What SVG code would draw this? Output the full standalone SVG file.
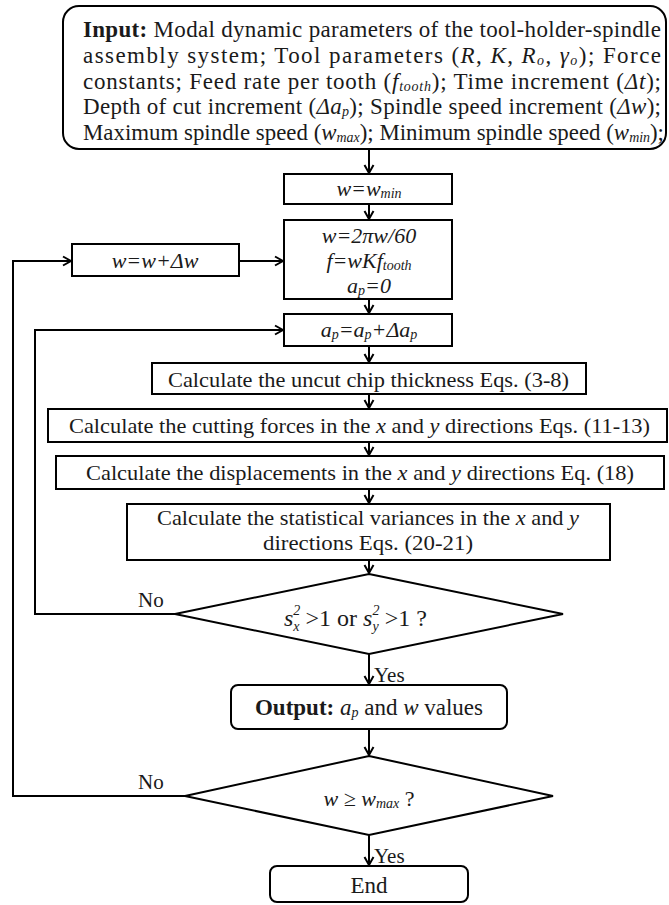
<svg xmlns="http://www.w3.org/2000/svg" width="669" height="905" viewBox="0 0 669 905">
<style>
.box{fill:#fff;stroke:#000;stroke-width:2}
.t{font-family:"Liberation Serif","Times New Roman",serif;font-size:22px;fill:#1a1a1a}
.big{font-size:23px}
.i{font-style:italic}
.b{font-weight:bold}
.s{font-size:14px;font-style:italic}
.c{text-anchor:middle}
.ln{fill:none;stroke:#000;stroke-width:2}
.lab{font-size:21px}
</style>
<defs>
<marker id="ah" markerWidth="12" markerHeight="12" refX="10" refY="6" orient="auto" markerUnits="userSpaceOnUse">
<path d="M2,1.5 L10,6 L2,10.5" fill="none" stroke="#000" stroke-width="2"/>
</marker>
</defs>
<rect width="669" height="905" fill="#fff"/>

<g id="connectors">
<path class="ln" d="M369,149 V173" marker-end="url(#ah)"/>
<path class="ln" d="M369,204 V219" marker-end="url(#ah)"/>
<path class="ln" d="M369,299 V313" marker-end="url(#ah)"/>
<path class="ln" d="M369,346 V362" marker-end="url(#ah)"/>
<path class="ln" d="M369,394 V408" marker-end="url(#ah)"/>
<path class="ln" d="M369,442 V455" marker-end="url(#ah)"/>
<path class="ln" d="M369,489 V503" marker-end="url(#ah)"/>
<path class="ln" d="M369,560 V573" marker-end="url(#ah)"/>
<path class="ln" d="M369,654 V684" marker-end="url(#ah)"/>
<path class="ln" d="M369,729 V755" marker-end="url(#ah)"/>
<path class="ln" d="M369,835 V865" marker-end="url(#ah)"/>
<path class="ln" d="M239,261 H283" marker-end="url(#ah)"/>
<path class="ln" d="M175,614 H35 V330 H283" marker-end="url(#ah)"/>
<path class="ln" d="M185,796 H13 V261 H71" marker-end="url(#ah)"/>
<text class="t lab" x="138" y="607">No</text>
<text class="t lab" x="138" y="789">No</text>
<text class="t lab" x="374" y="682">Yes</text>
<text class="t lab" x="374" y="863">Yes</text>
</g>

<g id="input">
<rect class="box" x="63" y="6" width="603" height="143" rx="16"/>
<text class="t big" x="83" y="37" textLength="578" lengthAdjust="spacing"><tspan class="b">Input:</tspan> Modal dynamic parameters of the tool-holder-spindle</text>
<text class="t big" x="83" y="63" textLength="578" lengthAdjust="spacing">assembly system; Tool parameters (<tspan class="i">R</tspan>, <tspan class="i">K</tspan>, <tspan class="i">R</tspan><tspan class="s" dy="2">o</tspan><tspan dy="-2">, </tspan><tspan class="i">γ</tspan><tspan class="s" dy="2">o</tspan><tspan dy="-2">); Force</tspan></text>
<text class="t big" x="83" y="89" textLength="578" lengthAdjust="spacing">constants;  Feed rate per tooth (<tspan class="i">f</tspan><tspan class="s" dy="2">tooth</tspan><tspan dy="-2">); Time increment (</tspan><tspan class="i">Δt</tspan>);</text>
<text class="t big" x="83" y="114" textLength="578" lengthAdjust="spacing">Depth of cut increment (<tspan class="i">Δa</tspan><tspan class="s" dy="2">p</tspan><tspan dy="-2">); Spindle speed increment (</tspan><tspan class="i">Δw</tspan>);</text>
<text class="t big" x="83" y="140" textLength="581" lengthAdjust="spacingAndGlyphs">Maximum spindle speed (<tspan class="i">w</tspan><tspan class="s" dy="2">max</tspan><tspan dy="-2">); Minimum spindle speed (</tspan><tspan class="i">w</tspan><tspan class="s" dy="2">min</tspan><tspan dy="-2">);</tspan></text>
</g>

<g id="wmin">
<rect class="box" x="284" y="174" width="168" height="30"/>
<text class="t c i" x="369" y="196">w=w<tspan class="s" dy="2">min</tspan></text>
</g>

<g id="winc">
<rect class="box" x="72" y="244" width="167" height="32"/>
<text class="t c i" x="155" y="268">w=w+Δw</text>
</g>

<g id="init">
<rect class="box" x="284" y="220" width="168" height="79"/>
<text class="t c i" x="369" y="243">w=2πw/60</text>
<text class="t c i" x="369" y="268">f=wKf<tspan class="s" dy="2">tooth</tspan></text>
<text class="t c i" x="369" y="293">a<tspan class="s" dy="2">p</tspan><tspan dy="-2">=0</tspan></text>
</g>

<g id="apinc">
<rect class="box" x="284" y="314" width="168" height="32"/>
<text class="t c i" x="369" y="337">a<tspan class="s" dy="2">p</tspan><tspan dy="-2">=a</tspan><tspan class="s" dy="2">p</tspan><tspan dy="-2">+Δa</tspan><tspan class="s" dy="2">p</tspan></text>
</g>

<g id="uncut">
<rect class="box" x="152" y="363" width="434" height="31"/>
<text class="t" x="168" y="387" textLength="401" lengthAdjust="spacingAndGlyphs">Calculate the uncut chip thickness Eqs. (3-8)</text>
</g>

<g id="forces">
<rect class="box" x="48" y="409" width="619" height="33"/>
<text class="t" x="69" y="433" textLength="581" lengthAdjust="spacingAndGlyphs">Calculate the cutting forces in the <tspan class="i">x</tspan> and <tspan class="i">y</tspan> directions Eqs. (11-13)</text>
</g>

<g id="disp">
<rect class="box" x="56" y="456" width="608" height="33"/>
<text class="t" x="86" y="480" textLength="548" lengthAdjust="spacingAndGlyphs">Calculate the displacements in the <tspan class="i">x</tspan> and <tspan class="i">y</tspan> directions Eq. (18)</text>
</g>

<g id="stat">
<rect class="box" x="127" y="504" width="483" height="56"/>
<text class="t" x="157" y="525" textLength="422" lengthAdjust="spacingAndGlyphs">Calculate the statistical variances in the <tspan class="i">x</tspan> and <tspan class="i">y</tspan></text>
<text class="t" x="263" y="550" textLength="210" lengthAdjust="spacingAndGlyphs">directions Eqs. (20-21)</text>
</g>

<g id="cond1">
<polygon class="box" points="369,574 563,614 369,654 175,614"/>
<text class="t" x="284" y="626" style="font-size:24px"><tspan class="i">s</tspan><tspan class="s" dx="0" dy="-11">2</tspan><tspan class="s" dx="-7" dy="16">x</tspan><tspan dx="6" dy="-5">&gt;1 or </tspan><tspan class="i">s</tspan><tspan class="s" dx="0" dy="-11">2</tspan><tspan class="s" dx="-7" dy="16">y</tspan><tspan dx="6" dy="-5">&gt;1 ?</tspan></text>
</g>

<g id="output">
<rect class="box" x="231" y="685" width="276" height="44" rx="7"/>
<text class="t c big" x="369" y="715"><tspan class="b">Output:</tspan> <tspan class="i">a</tspan><tspan class="s" dy="2">p</tspan><tspan dy="-2"> and </tspan><tspan class="i">w</tspan> values</text>
</g>

<g id="cond2">
<polygon class="box" points="369,756 553,796 369,835 185,796"/>
<text class="t c i" x="369" y="806" fill="#333">w ≥ w<tspan class="s" dy="2">max</tspan><tspan dy="-2" style="font-style:normal"> ?</tspan></text>
</g>

<g id="end">
<rect class="box" x="270" y="866" width="198" height="36" rx="7"/>
<text class="t c big" x="369" y="893">End</text>
</g>
</svg>
